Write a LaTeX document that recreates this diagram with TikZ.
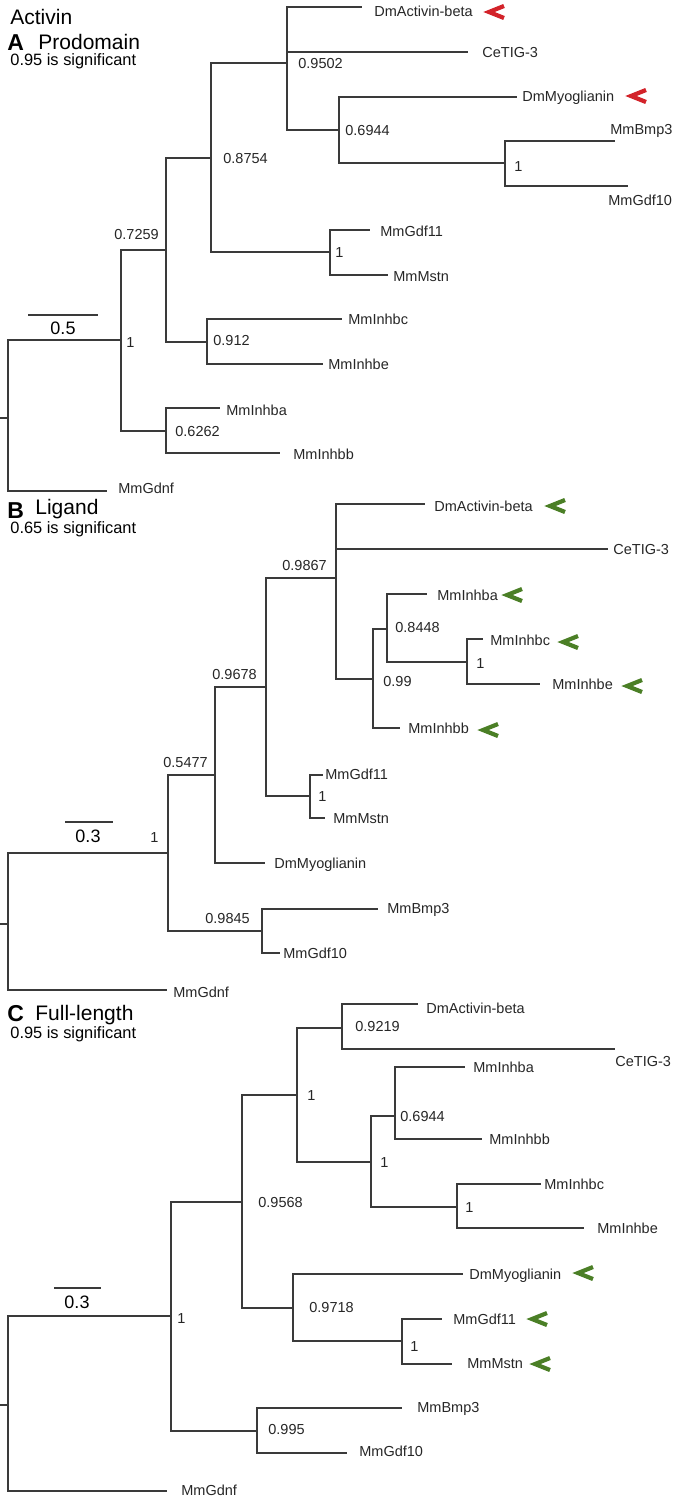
\documentclass[tikz,border=0pt]{standalone}
\usepackage{fontspec}
\setmainfont{Liberation Sans}
\usepackage{tikz}
\usetikzlibrary{positioning}
\definecolor{treegray}{HTML}{3A3A3A}
\definecolor{flagred}{HTML}{D3232A}
\definecolor{flaggreen}{HTML}{4B7F26}
\tikzset{chevron/.pic={\draw[line width=2.1pt,line join=miter] (15,-6) -- (0,0) -- (15,6);}}

\begin{document}
\begin{tikzpicture}[x=0.5pt,y=-0.5pt,
  branch/.style={draw=treegray,line width=0.6pt},
  taxon/.style={anchor=west,inner sep=0pt,text height=5.2pt,text depth=0pt,text=black!85,font=\fontsize{7.25}{8}\selectfont},
  head/.style={anchor=west,inner sep=0pt,text height=7.5pt,text depth=0pt,font=\fontsize{10.5}{12}\selectfont},
  letter/.style={anchor=west,inner sep=0pt,text height=8.3pt,text depth=0pt,font=\fontsize{11.5}{13}\selectfont\bfseries},
  signif/.style={anchor=west,inner sep=0pt,text height=5.9pt,text depth=0pt,font=\fontsize{8.2}{9}\selectfont},
  scalelab/.style={inner sep=0pt,text height=6.4pt,text depth=0pt,font=\fontsize{9}{10}\selectfont}]
  \useasboundingbox (0,0) rectangle (677,1500);

  % A  prodomain
  \node[head] (title) at (10,17) {Activin};
  \node[letter] (letA) at (7,42) {A};
  \node[head] (headA) at (38,42) {Prodomain};
  \node[signif] (sigA) at (10,60) {0.95 is significant};
  \coordinate (a0) at (0,418); \coordinate (ar) at (8,418);
  \coordinate (a1) at (121,340); \coordinate (a2) at (166,250); \coordinate (a3) at (211,158);
  \coordinate (a4) at (287,63); \coordinate (a5) at (339,130); \coordinate (a6) at (505,163);
  \coordinate (a7) at (330,252); \coordinate (a8) at (207,342); \coordinate (a9) at (166,431);
  \coordinate (aAct) at (362,7); \coordinate (aTig) at (468,52); \coordinate (aMyo) at (517,97);
  \coordinate (aBmp) at (615,141); \coordinate (aG10) at (628,186); \coordinate (aG11) at (370,230);
  \coordinate (aMst) at (388,275); \coordinate (aIbc) at (342,319); \coordinate (aIbe) at (323,364);
  \coordinate (aIba) at (220,408); \coordinate (aIbb) at (280,453); \coordinate (aGdn) at (107,491);
  \draw[branch] (a0) -- (ar);
  \foreach \p/\c in {ar/a1,ar/aGdn,a1/a2,a1/a9,a2/a3,a2/a8,a3/a4,a3/a7,a4/aAct,a4/aTig,a4/a5,
      a5/aMyo,a5/a6,a6/aBmp,a6/aG10,a7/aG11,a7/aMst,a8/aIbc,a8/aIbe,a9/aIba,a9/aIbb}
    \draw[branch] (\p) |- (\c);
  \node[taxon] (aActL) at (374,11) {DmActivin-beta};
  \node[taxon] (aTigL) at (482,52) {CeTIG-3};
  \node[taxon] (aMyoL) at (522,96) {DmMyoglianin};
  \node[taxon] (aBmpL) at (610,129) {MmBmp3};
  \node[taxon] (aG10L) at (608,200) {MmGdf10};
  \node[taxon] (aG11L) at (380,231) {MmGdf11};
  \node[taxon] (aMstL) at (393,276) {MmMstn};
  \node[taxon] (aIbcL) at (348,319) {MmInhbc};
  \node[taxon] (aIbeL) at (328,364) {MmInhbe};
  \node[taxon] (aIbaL) at (226,410) {MmInhba};
  \node[taxon] (aIbbL) at (293,454) {MmInhbb};
  \node[taxon] (aGdnL) at (118,488) {MmGdnf};
  \node[taxon] (a4s) at (298,63) {0.9502};
  \node[taxon] (a5s) at (345,130) {0.6944};
  \node[taxon] (a6s) at (514,166) {1};
  \node[taxon] (a3s) at (223,158) {0.8754};
  \node[taxon] (a2s) at (114,234) {0.7259};
  \node[taxon] (a7s) at (335,252) {1};
  \node[taxon] (a8s) at (213,340) {0.912};
  \node[taxon] (a1s) at (126,342) {1};
  \node[taxon] (a9s) at (175,431) {0.6262};
  \pic[color=flagred] at (489,12) {chevron};
  \pic[color=flagred] at (631,96) {chevron};
  \coordinate (sa1) at (28,315); \coordinate (sa2) at (98,315);
  \draw[branch] (sa1) -- (sa2);
  \node[scalelab] (sa) at (63,328) {0.5};

  % B  ligand
  \node[letter] (letB) at (7,510) {B};
  \node[head] (headB) at (35,507) {Ligand};
  \node[signif] (sigB) at (10,528) {0.65 is significant};
  \coordinate (b0) at (0,924); \coordinate (br) at (8,924);
  \coordinate (b1) at (168,853); \coordinate (b2) at (215,775); \coordinate (b3) at (266,687);
  \coordinate (b4) at (336,578); \coordinate (b5) at (373,679); \coordinate (b6) at (387,629);
  \coordinate (b7) at (467,662); \coordinate (b8) at (310,796); \coordinate (b9) at (262,931);
  \coordinate (bAct) at (425,504); \coordinate (bTig) at (608,549); \coordinate (bIba) at (427,594);
  \coordinate (bIbc) at (483,639); \coordinate (bIbe) at (540,684); \coordinate (bIbb) at (400,728);
  \coordinate (bG11) at (323,775); \coordinate (bMst) at (325,818); \coordinate (bMyo) at (265,863);
  \coordinate (bBmp) at (378,909); \coordinate (bG10) at (280,953); \coordinate (bGdn) at (167,990);
  \draw[branch] (b0) -- (br);
  \foreach \p/\c in {br/b1,br/bGdn,b1/b2,b1/b9,b2/b3,b2/bMyo,b3/b4,b3/b8,b4/bAct,b4/bTig,b4/b5,
      b5/b6,b5/bIbb,b6/bIba,b6/b7,b7/bIbc,b7/bIbe,b8/bG11,b8/bMst,b9/bBmp,b9/bG10}
    \draw[branch] (\p) |- (\c);
  \node[taxon] (bActL) at (434,506) {DmActivin-beta};
  \node[taxon] (bTigL) at (613,549) {CeTIG-3};
  \node[taxon] (bIbaL) at (437,595) {MmInhba};
  \node[taxon] (bIbcL) at (490,640) {MmInhbc};
  \node[taxon] (bIbeL) at (552,684) {MmInhbe};
  \node[taxon] (bIbbL) at (408,728) {MmInhbb};
  \node[taxon] (bG11L) at (325,774) {MmGdf11};
  \node[taxon] (bMstL) at (333,818) {MmMstn};
  \node[taxon] (bMyoL) at (274,863) {DmMyoglianin};
  \node[taxon] (bBmpL) at (387,908) {MmBmp3};
  \node[taxon] (bG10L) at (283,953) {MmGdf10};
  \node[taxon] (bGdnL) at (173,992) {MmGdnf};
  \node[taxon] (b4s) at (282,565) {0.9867};
  \node[taxon] (b3s) at (212,674) {0.9678};
  \node[taxon] (b2s) at (163,762) {0.5477};
  \node[taxon] (b1s) at (150,837) {1};
  \node[taxon] (b5s) at (383,681) {0.99};
  \node[taxon] (b6s) at (395,627) {0.8448};
  \node[taxon] (b7s) at (476,663) {1};
  \node[taxon] (b8s) at (318,796) {1};
  \node[taxon] (b9s) at (205,918) {0.9845};
  \pic[color=flaggreen] at (550,506) {chevron};
  \pic[color=flaggreen] at (507,595) {chevron};
  \pic[color=flaggreen] at (563,642) {chevron};
  \pic[color=flaggreen] at (627,686) {chevron};
  \pic[color=flaggreen] at (483,730) {chevron};
  \coordinate (sb1) at (65,822); \coordinate (sb2) at (113,822);
  \draw[branch] (sb1) -- (sb2);
  \node[scalelab] (sb) at (88,836) {0.3};

  % C  full-length
  \node[letter] (letC) at (7,1013) {C};
  \node[head] (headC) at (35,1013) {Full-length};
  \node[signif] (sigC) at (10,1033) {0.95 is significant};
  \coordinate (c0) at (0,1405); \coordinate (cr) at (8,1405);
  \coordinate (c1) at (171,1316); \coordinate (c2) at (242,1202); \coordinate (c3) at (297,1095);
  \coordinate (c4) at (342,1028); \coordinate (c5) at (371,1162); \coordinate (c6) at (395,1116);
  \coordinate (c7) at (457,1207); \coordinate (c8) at (293,1308); \coordinate (c9) at (402,1341);
  \coordinate (c10) at (257,1431);
  \coordinate (cAct) at (418,1004); \coordinate (cTig) at (615,1049); \coordinate (cIba) at (465,1067);
  \coordinate (cIbb) at (482,1139); \coordinate (cIbc) at (541,1184); \coordinate (cIbe) at (584,1228);
  \coordinate (cMyo) at (463,1274); \coordinate (cG11) at (442,1319); \coordinate (cMst) at (452,1364);
  \coordinate (cBmp) at (402,1408); \coordinate (cG10) at (347,1453); \coordinate (cGdn) at (167,1491);
  \draw[branch] (c0) -- (cr);
  \foreach \p/\c in {cr/c1,cr/cGdn,c1/c2,c1/c10,c2/c3,c2/c8,c3/c4,c3/c5,c4/cAct,c4/cTig,c5/c6,
      c5/c7,c6/cIba,c6/cIbb,c7/cIbc,c7/cIbe,c8/cMyo,c8/c9,c9/cG11,c9/cMst,c10/cBmp,c10/cG10}
    \draw[branch] (\p) |- (\c);
  \node[taxon] (cActL) at (426,1008) {DmActivin-beta};
  \node[taxon] (cTigL) at (615,1061) {CeTIG-3};
  \node[taxon] (cIbaL) at (473,1067) {MmInhba};
  \node[taxon] (cIbbL) at (489,1139) {MmInhbb};
  \node[taxon] (cIbcL) at (544,1184) {MmInhbc};
  \node[taxon] (cIbeL) at (597,1228) {MmInhbe};
  \node[taxon] (cMyoL) at (469,1274) {DmMyoglianin};
  \node[taxon] (cG11L) at (453,1319) {MmGdf11};
  \node[taxon] (cMstL) at (467,1363) {MmMstn};
  \node[taxon] (cBmpL) at (417,1407) {MmBmp3};
  \node[taxon] (cG10L) at (359,1451) {MmGdf10};
  \node[taxon] (cGdnL) at (181,1490) {MmGdnf};
  \node[taxon] (c3s) at (307,1095) {1};
  \node[taxon] (c4s) at (355,1026) {0.9219};
  \node[taxon] (c5s) at (380,1162) {1};
  \node[taxon] (c6s) at (400,1116) {0.6944};
  \node[taxon] (c7s) at (465,1207) {1};
  \node[taxon] (c2s) at (258,1202) {0.9568};
  \node[taxon] (c8s) at (309,1307) {0.9718};
  \node[taxon] (c9s) at (410,1346) {1};
  \node[taxon] (c1s) at (177,1318) {1};
  \node[taxon] (c10s) at (268,1429) {0.995};
  \pic[color=flaggreen] at (578,1273) {chevron};
  \pic[color=flaggreen] at (532,1319) {chevron};
  \pic[color=flaggreen] at (535,1364) {chevron};
  \coordinate (sc1) at (54,1288); \coordinate (sc2) at (101,1288);
  \draw[branch] (sc1) -- (sc2);
  \node[scalelab] (sc) at (77,1302) {0.3};
\end{tikzpicture}
\end{document}
